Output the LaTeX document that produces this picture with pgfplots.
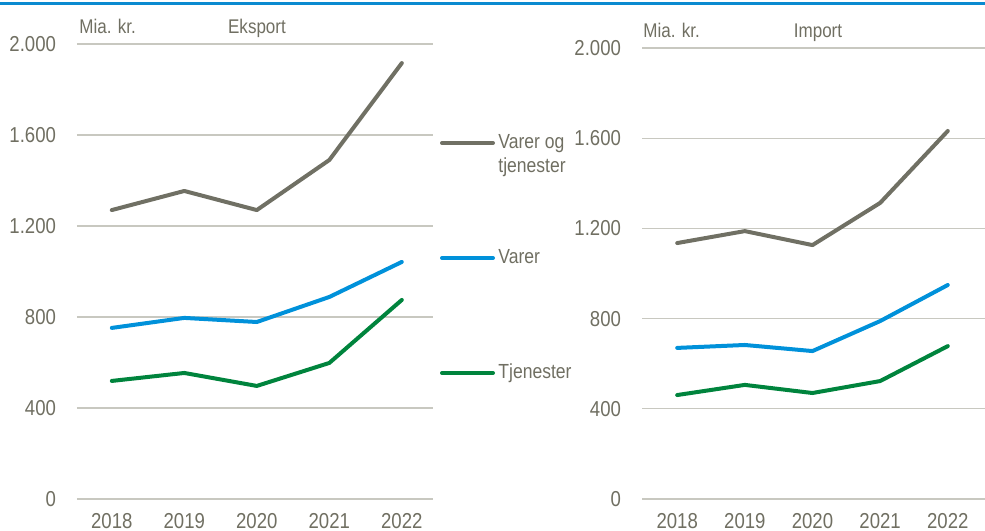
\documentclass[border=0pt]{standalone}
\usepackage{pgfplots}
\pgfplotsset{compat=1.18}
\usepackage{fontspec}
\setmainfont{Liberation Sans}[FakeStretch=0.86]
\definecolor{cgray}{RGB}{112,112,100}
\definecolor{cblue}{RGB}{0,145,218}
\definecolor{cgreen}{RGB}{0,132,61}
\definecolor{ctext}{RGB}{112,111,98}
\definecolor{cgrid}{RGB}{200,200,192}
\definecolor{crule}{RGB}{10,138,208}
\pgfplotsset{
  panel/.style={
    scale only axis,
    anchor=south west,
    ymin=0, ymax=2000,
    ytick={0,400,...,2000},
    xtick={0,1,2,3,4},
    xticklabels={2018,2019,2020,2021,2022},
    axis line style={draw=none},
    major tick length=0pt,
    ymajorgrids,
    grid style={cgrid, line width=0.6pt},
    tick label style={font=\fontsize{10.8}{12}\selectfont, text=ctext},
    /pgf/number format/assume math mode=true,
    /pgf/number format/.cd, 1000 sep={.}, /pgfplots/.cd,
    yticklabel style={xshift=-7pt},
    xticklabel style={yshift=-3.5pt},
    clip=false,
    every axis plot/.append style={line width=2pt, line join=round, line cap=round},
  }
}
\begin{document}
\begin{tikzpicture}
\path[use as bounding box] (0,0) rectangle (492.5pt,265pt);
\fill[crule] (0,262.5pt) rectangle (492.5pt,264.2pt);
% Eksport
\begin{axis}[panel, at={(38.5pt,15.5pt)}, width=178pt, height=227.5pt, xmin=-0.48, xmax=4.43]
\addplot[cgray] coordinates {(0,1270) (1,1354) (2,1270) (3,1490) (4,1916)};
\addplot[cblue] coordinates {(0,752) (1,796) (2,778) (3,888) (4,1042)};
\addplot[cgreen] coordinates {(0,519) (1,554) (2,497) (3,598) (4,875)};
\end{axis}
% Import
\begin{axis}[panel, at={(321pt,15.5pt)}, width=171.5pt, height=225.5pt, xmin=-0.52, xmax=4.55]
\addplot[cgray] coordinates {(0,1135) (1,1188) (2,1126) (3,1313) (4,1632)};
\addplot[cblue] coordinates {(0,670) (1,683) (2,656) (3,789) (4,949)};
\addplot[cgreen] coordinates {(0,461) (1,506) (2,470) (3,523) (4,678)};
\end{axis}
% titles
\begin{scope}[every node/.style={text=ctext, font=\fontsize{9.9}{11}\selectfont, inner sep=0pt}]
\node[anchor=mid west] at (39.5pt,251pt) {Mia. kr.};
\node[anchor=mid] at (128.5pt,251pt) {Eksport};
\node[anchor=mid west] at (321.5pt,249pt) {Mia. kr.};
\node[anchor=mid] at (409pt,249pt) {Import};
\end{scope}
% legend
\begin{scope}[every node/.style={text=ctext, font=\fontsize{10.2}{12}\selectfont, inner sep=0pt, anchor=mid west}]
\draw[cgray, line width=2pt, line cap=round] (221pt,193.5pt) -- (246.5pt,193.5pt);
\node at (249pt,193.5pt) {Varer og};
\node at (249pt,181.5pt) {tjenester};
\draw[cblue, line width=2pt, line cap=round] (221pt,136pt) -- (246.5pt,136pt);
\node at (249pt,136pt) {Varer};
\draw[cgreen, line width=2pt, line cap=round] (221pt,78.5pt) -- (246.5pt,78.5pt);
\node at (249pt,78.5pt) {Tjenester};
\end{scope}
\end{tikzpicture}
\end{document}
